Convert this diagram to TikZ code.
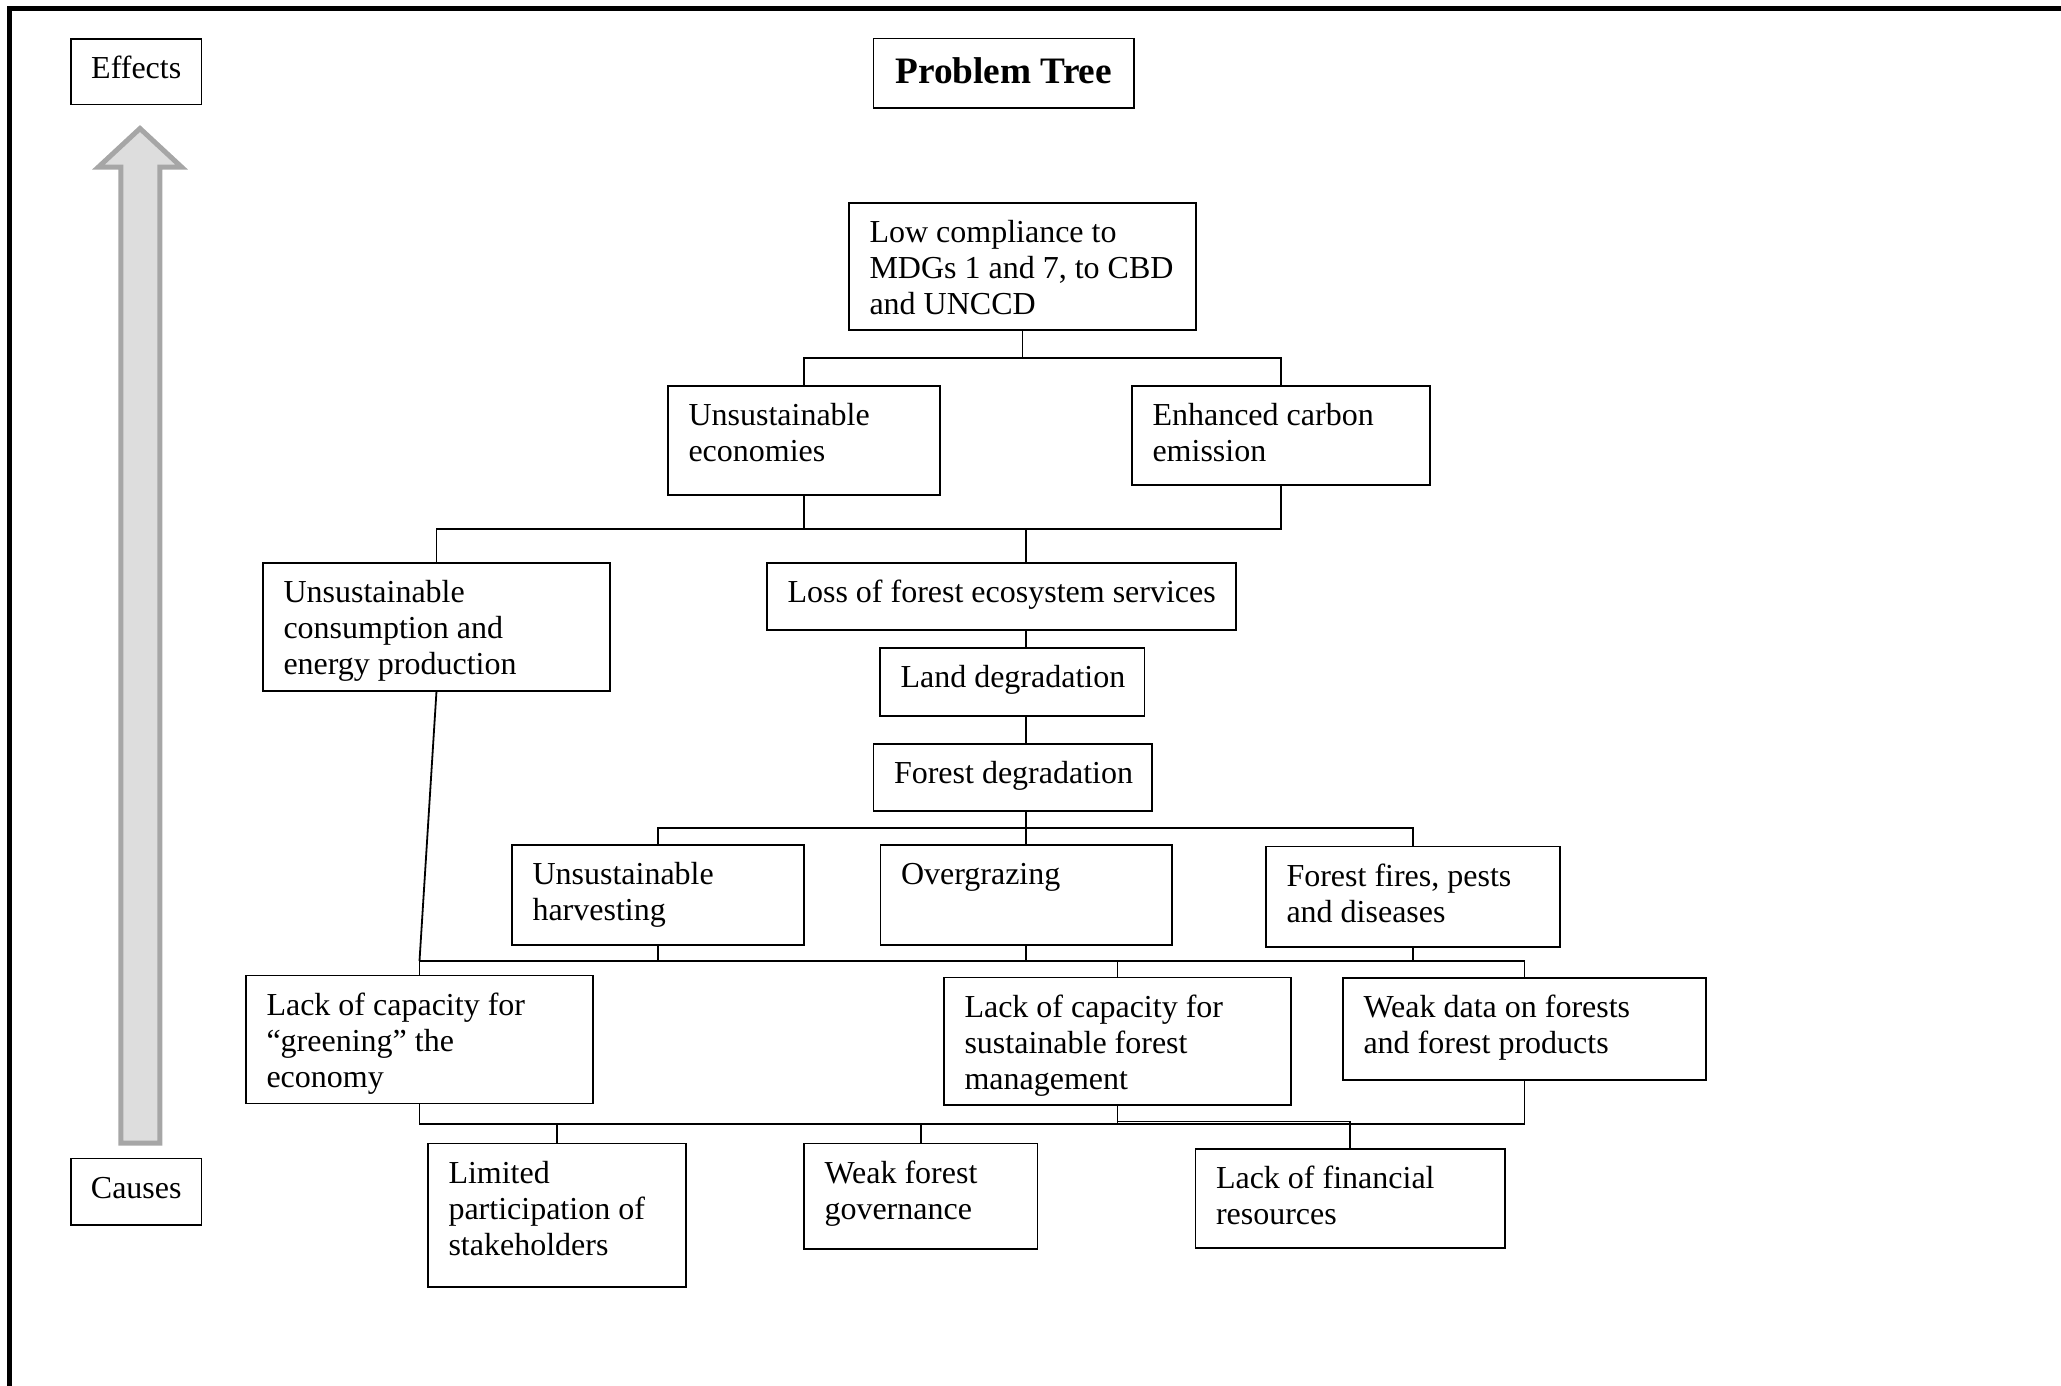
\documentclass[tikz,border=0pt]{standalone}
\usepackage{fontspec}
\setmainfont{Liberation Serif}
\definecolor{arrowline}{HTML}{A6A6A6}
\definecolor{arrowfill}{HTML}{DDDDDD}
\tikzset{
  tbox/.style={draw, rectangle, line width=1.5pt, inner sep=0pt, outer sep=0pt, anchor=north west},
  conn/.style={line width=1.8pt},
  framestyle/.style={line width=5pt, line join=miter},
  bigarrow/.style={draw=arrowline, fill=arrowfill, line width=5pt, line join=miter}
}
% name, x, y, width, height, text (top-left aligned, Word-like insets)
\newcommand{\tbx}[6]{%
  \node[tbox, minimum width=#4pt, minimum height=#5pt] (#1) at (#2,#3)
  {\parbox[t][#5pt][t]{#4pt}{\fontsize{32}{36}\selectfont\raggedright\leftskip=20.5pt\relax\rule{0pt}{39.5pt}#6}};}
\begin{document}
\begin{tikzpicture}[x=1pt,y=-1pt]
\useasboundingbox (0,0) rectangle (2061,1386);
% outer frame (top and left)
\draw[framestyle] (9.8,1386) -- (9.8,8.7) -- (2061,8.7);
% side labels
\node[tbox, minimum width=130.5pt, minimum height=65.5pt] (effects) at (71,39)
  {\parbox[t][65.5pt][t]{130.5pt}{\fontsize{32}{36}\selectfont\centering\rule{0pt}{39.3pt}Effects}};
\node[tbox, minimum width=130.5pt, minimum height=66.5pt] (causes) at (71,1158.5)
  {\parbox[t][66.5pt][t]{130.5pt}{\fontsize{32}{36}\selectfont\centering\rule{0pt}{40.3pt}Causes}};
% big arrow
\draw[bigarrow] (120.8,1143) -- (120.8,167) -- (98.5,167) -- (140,128.5) -- (181.5,167) -- (159.8,167) -- (159.8,1143) -- cycle;
% title
\node[tbox, minimum width=260.5pt, minimum height=69.5pt] (title) at (873.5,38.5)
  {\parbox[t][69.5pt][t]{260.5pt}{\fontsize{37.3}{43}\selectfont\bfseries\centering\rule{0pt}{45pt}Problem Tree}};
% boxes
\tbx{low}{849}{203}{347}{127}{Low compliance to\\MDGs 1 and 7, to CBD\\and UNCCD}
\tbx{ue}{668}{386}{272}{109}{Unsustainable\\economies}
\tbx{ec}{1132}{386}{298}{99}{Enhanced carbon\\emission}
\tbx{uc}{263}{563}{347}{128}{Unsustainable\\consumption and\\energy production}
\tbx{loss}{767}{563}{469}{67}{Loss of forest ecosystem services}
\tbx{land}{880}{648}{264.5}{68}{Land degradation}
\tbx{fd}{873.5}{744}{278.5}{67}{Forest degradation}
\tbx{uh}{512}{845}{292}{100}{Unsustainable\\harvesting}
\tbx{og}{880.5}{845}{291.5}{100}{Overgrazing}
\tbx{ff}{1266}{846.5}{294}{100.5}{Forest fires, pests\\and diseases}
\tbx{lg}{246}{975.5}{347}{128}{Lack of capacity for\\“greening” the\\economy}
\tbx{sfm}{944}{977.5}{347}{127.5}{Lack of capacity for\\sustainable forest\\management}
\tbx{wd}{1343}{978}{363}{102}{Weak data on forests\\and forest products}
\tbx{lp}{428}{1143.5}{258}{143.5}{Limited\\participation of\\stakeholders}
\tbx{wg}{804}{1143.5}{233.5}{105.5}{Weak forest\\governance}
\tbx{lf}{1195.5}{1149}{309.5}{99}{Lack of financial\\resources}
% junctions
\coordinate (spine) at (1026,0);
\coordinate (j1) at (1022.5,358);
\coordinate (j2) at (804,529);
\coordinate (j3) at (1026,828);
\coordinate (j4) at (1026,961);
\coordinate (j5) at (1117.5,1124);
\coordinate (j6) at (1117.5,1121.5);
% level 1
\draw[conn] (low.south) -- (j1);
\draw[conn] (ue.north) |- (j1) -| (ec.north);
% level 2
\draw[conn] (ue.south) -- (j2);
\draw[conn] (ec.south) |- (j2);
\draw[conn] (uc.north) |- (j2);
\draw[conn] (j2) -| (spine |- loss.north);
% spine
\draw[conn] (spine |- loss.south) -- (spine |- land.north);
\draw[conn] (spine |- land.south) -- (spine |- fd.north);
\draw[conn] (spine |- fd.south) -- (j3);
% level 3
\draw[conn] (uh.north) |- (j3) -| (ff.north);
\draw[conn] (og.north) -- (og.north |- j3);
% level 4
\draw[conn] (uh.south) -- (uh.south |- j4);
\draw[conn] (og.south) -- (og.south |- j4);
\draw[conn] (ff.south) -- (ff.south |- j4);
\draw[conn] (lg.north) |- (j4) -| (wd.north);
\draw[conn] (sfm.north) -- (sfm.north |- j4);
\draw[conn] (uc.south) -- (lg.north |- j4);
% level 5
\draw[conn] (lg.south) |- (j5);
\draw[conn] (sfm.south) -- (j5);
\draw[conn] (wd.south) |- (j5);
\draw[conn] (lp.north) -- (lp.north |- j5);
\draw[conn] (wg.north) -- (wg.north |- j5);
\draw[conn] (sfm.south) -- (j6) -| (lf.north);
\end{tikzpicture}
\end{document}
